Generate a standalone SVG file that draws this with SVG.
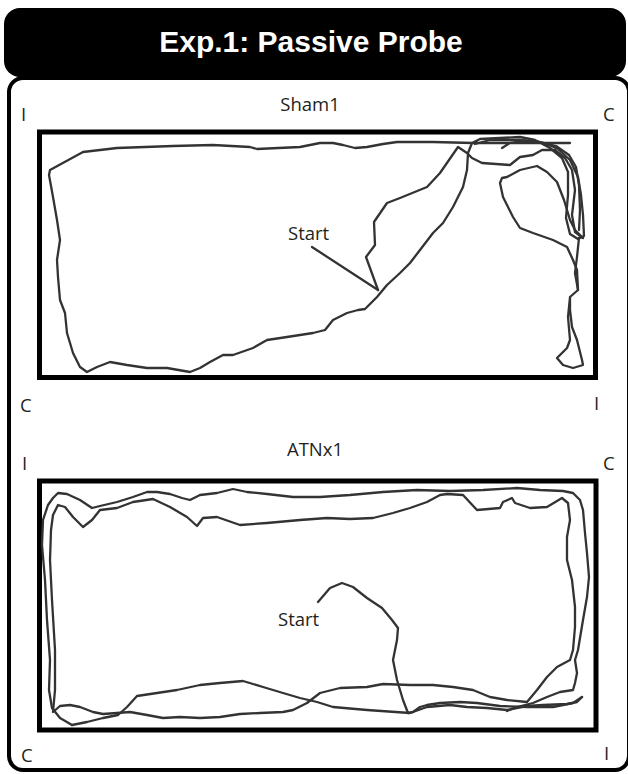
<svg xmlns="http://www.w3.org/2000/svg" width="628" height="774" viewBox="0 0 628 774">
<style>
.lbl{font-family:"Open Sans","Noto Sans","Liberation Sans",sans-serif;font-size:18.5px;fill:#231f20}
.trk{fill:none;stroke:#333;stroke-width:2.3;stroke-linejoin:round;stroke-linecap:round}
.arena{fill:none;stroke:#000;stroke-width:5}
</style>
<rect width="628" height="774" fill="#fff"/>
<g id="header">
<rect x="4" y="8" width="622" height="69" rx="16" fill="#000"/>
<text x="311" y="52" text-anchor="middle" font-family="Liberation Sans, Arial, sans-serif" font-weight="bold" font-size="30" fill="#fff">Exp.1: Passive Probe</text>
</g>
<g id="panel">
<rect x="9" y="78" width="620" height="692" rx="14" fill="#fff" stroke="#000" stroke-width="4"/>
</g>
<g id="sham1">
<text class="lbl" x="310" y="111" text-anchor="middle">Sham1</text>
<text class="lbl" x="21" y="121">I</text>
<text class="lbl" x="603" y="121">C</text>
<text class="lbl" x="20" y="412">C</text>
<text class="lbl" x="594" y="410">I</text>
<rect class="arena" x="39.5" y="132" width="556" height="245.5"/>
<text class="lbl" x="288" y="240">Start</text>
</g>
<g id="atnx1">
<text class="lbl" x="315" y="456" text-anchor="middle">ATNx1</text>
<text class="lbl" x="22" y="470">I</text>
<text class="lbl" x="603" y="470">C</text>
<text class="lbl" x="21" y="762">C</text>
<text class="lbl" x="604" y="760">I</text>
<rect class="arena" x="39.5" y="481" width="556.5" height="249"/>
<text class="lbl" x="278" y="626">Start</text>
</g>
<g id="connectors">
<!-- Sham1 tracks -->
<polyline class="trk" points="312,247 378,290"/>
<polyline class="trk" points="378,290 366,257 375,245 374,222 387,203 400,198 427,187 440,173 458,147 467,153 472,158 482,163 510,165 520,157 533,155 542,150 555,150 565,158 572,170 575,190 572,215 575,232 583,238"/>
<polyline class="trk" points="570,143 473,143 433,142 397,142 383,144 367,147 355,148 343,145 333,143 320,143 300,147 257,149 250,147 213,145 173,146 117,148 83,152 50,170 49,175 53,197 57,220 60,240 57,260 58,277 60,300 65,313 67,333 73,353 80,367 87,372 97,367 110,362 127,365 147,368 167,368 190,372 200,368 210,362 223,355 233,355 253,348 267,340 287,337 300,335 313,333 325,330 333,320 347,313 358,310 365,309 377,297 387,285 400,273 410,263 420,250 433,233 443,223 453,207 463,187 467,170 468,153 472,143 480,139 500,138 520,137 535,140 550,148 562,158 568,172 568,195 566,218 570,234 578,239 584,236 583,215 581,195 578,177 570,160 558,149 545,143 525,141 510,143 502,148"/>
<polyline class="trk" points="475,144 490,140 520,140 540,142 556,146 569,155 576,167 579,185 580,210 579,230"/>
<polyline class="trk" points="582,237 575,230 570,220 564,200 557,182 547,172 537,166 520,170 507,177 502,178 500,183 503,197 513,217 520,228 533,233 553,240 567,247 573,260 577,270 578,290 570,297 570,310 572,327 577,340 582,360 583,365 573,368 563,365 557,358 567,348 570,340 568,317 570,297"/>
<polyline class="trk" points="579,238 577,257 575,273 578,290"/>
<!-- ATNx1 tracks -->
<polyline class="trk" points="72,725 60,718 52,708 49,690 50,660 47,620 45,580 42,545 43,520 48,505 53,498 58,493 67,494 80,500 92,508 100,506 117,502 133,497 147,492 157,492 170,494 182,498 190,500 200,495 217,493 233,489 247,492 267,494 293,497 320,497 350,495 383,492 417,490 450,491 483,490 517,488 540,490 563,491 573,493 580,500 583,510 585,533 587,553 589,577 587,597 583,620 578,650 575,660 577,673 575,683 573,690 560,692 547,697 533,703 517,707 507,711"/>
<polyline class="trk" points="53,712 55,690 55,650 52,600 50,560 51,530 53,515 58,505 65,507 73,517 83,527 92,520 100,510 117,508 133,502 153,499 170,507 187,517 197,526 203,518 217,517 240,525 267,523 300,520 327,518 350,519 373,518 393,513 410,508 427,502 440,495 447,494 463,495 477,510 500,508 503,502 512,498 515,503 530,508 547,507 562,498 568,503 570,520 567,537 567,560 572,580 575,607 575,627 573,650 570,660 557,667 547,677 537,690 527,702 507,700 490,697 473,690 453,687 433,685 410,685 383,684 367,687 340,688 320,693 307,703 293,710 283,712 260,713 240,714 220,717 200,718 180,717 163,718 147,715 130,712 117,713 103,714 93,712 80,707 70,705 60,706 53,712"/>
<polyline class="trk" points="72,725 87,722 103,718 118,715 127,707 137,696 157,693 177,690 200,685 220,683 243,681 263,687 283,693 300,698 317,702 333,707 367,710 410,713 427,707 450,705 467,707 487,708 507,710 527,706 543,705 567,704 577,702 582,697"/>
<polyline class="trk" points="318,602 330,588 342,583 353,587 367,598 382,608 392,620 398,628 397,640 393,660 397,680 403,700 408,713 413,712 420,707 427,705 440,703 460,702 477,703 500,706 527,707 553,707 573,703 582,697"/>
</g>
</svg>
